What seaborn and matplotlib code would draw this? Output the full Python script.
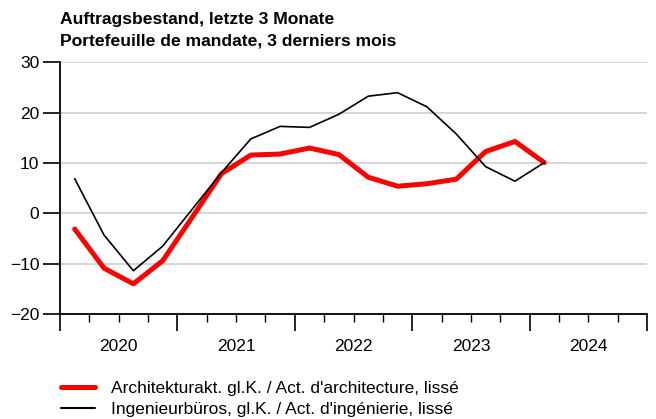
import pandas as pd
import numpy as np
import matplotlib
matplotlib.use('Agg')
import matplotlib.pyplot as plt
import seaborn as sns
from matplotlib.ticker import FixedLocator, FixedFormatter

# Data: quarterly, 2020Q1 - 2024Q1
quarters = ['2020Q1', '2020Q2', '2020Q3', '2020Q4',
            '2021Q1', '2021Q2', '2021Q3', '2021Q4',
            '2022Q1', '2022Q2', '2022Q3', '2022Q4',
            '2023Q1', '2023Q2', '2023Q3', '2023Q4',
            '2024Q1']
architektur = [-3.1, -10.9, -14.0, -9.4, -0.8, 7.9, 11.6, 11.8, 13.0, 11.7,
               7.2, 5.4, 5.9, 6.8, 12.3, 14.3, 10.1]
ingenieur = [6.9, -4.3, -11.4, -6.5, 0.8, 8.1, 14.8, 17.3, 17.1, 19.7,
             23.3, 24.0, 21.2, 15.8, 9.3, 6.4, 10.1]
years = [2020, 2021, 2022, 2023, 2024]
labelArch = "Architekturakt. gl.K. / Act. d'architecture, lissé"
labelIng = "Ingenieurbüros, gl.K. / Act. d'ingénierie, lissé"
titleText = "Auftragsbestand, letzte 3 Monate\nPortefeuille de mandate, 3 derniers mois"

# Set style
sns.set_theme(style='white')
plt.rcParams['font.family'] = ['Liberation Sans', 'DejaVu Sans']
plt.rcParams['text.color'] = 'black'
plt.rcParams['xtick.color'] = 'black'
plt.rcParams['ytick.color'] = 'black'

# Quarter -> decimal year (middle of quarter)
periods = pd.PeriodIndex(quarters, freq='Q')
xPos = periods.year + (periods.quarter - 1) / 4 + 0.125

dataFrame = pd.DataFrame({
    'x': np.concatenate([xPos, xPos]),
    'value': architektur + ingenieur,
    'series': [labelArch] * len(quarters) + [labelIng] * len(quarters),
})

fig = plt.figure(figsize=(6.56, 4.19), dpi=100)
ax = fig.add_axes([60 / 656, 1 - 314 / 419, 587 / 656, 251.5 / 419])

sns.lineplot(data=dataFrame, x='x', y='value', hue='series', size='series',
             palette={labelArch: '#ff0000', labelIng: '#000000'},
             sizes={labelArch: 3.6, labelIng: 1.2},
             ax=ax, legend=False)

ax.set_xlim(years[0], years[-1] + 1)
ax.set_ylim(-20, 30)
ax.set_xlabel('')
ax.set_ylabel('')

# Y axis
ax.set_yticks([-20, -10, 0, 10, 20, 30])
ax.yaxis.grid(True, color='#d2d2d2', linewidth=1.3)
ax.set_axisbelow(True)
ax.tick_params(axis='y', length=12, width=1.2, color='black', pad=3,
               labelsize=12.5, labelcolor='black', left=True, direction='out')

# X axis: year boundaries (long ticks), quarters (short ticks), labels mid-year
majorPos = list(range(years[0], years[-1] + 2))
ax.xaxis.set_major_locator(FixedLocator(majorPos))
ax.xaxis.set_major_formatter(FixedFormatter([''] * len(majorPos)))
minorPos = [y + q / 4 for y in years for q in (1, 2, 3)]
minorLabels = [str(y) if q == 2 else '' for y in years for q in (1, 2, 3)]
ax.xaxis.set_minor_locator(FixedLocator(minorPos))
ax.xaxis.set_minor_formatter(FixedFormatter(minorLabels))
ax.tick_params(axis='x', which='major', length=12, width=1.2, color='black',
               bottom=True, direction='out')
ax.tick_params(axis='x', which='minor', length=6, width=1.0, color='black',
               bottom=True, direction='out', labelsize=12.5,
               labelcolor='black', pad=12)

for side in ['top', 'right']:
    ax.spines[side].set_visible(False)
for side in ['left', 'bottom']:
    ax.spines[side].set_color('black')
    ax.spines[side].set_linewidth(1.3)

# Title
fig.text(60 / 656, 1 - 12 / 419, titleText, ha='left', va='top',
         fontsize=12.6, fontweight='bold', linespacing=1.5, color='black')

# Legend
handles = [plt.Line2D([], [], color='#ff0000', linewidth=3.6),
           plt.Line2D([], [], color='#000000', linewidth=1.5)]
fig.legend(handles, [labelArch, labelIng], loc='upper left',
           bbox_to_anchor=(58 / 656, 1 - 377 / 419), frameon=False,
           fontsize=12.5, handlelength=1.95, handletextpad=0.9,
           labelspacing=0.38, borderaxespad=0, borderpad=0.2,
           labelcolor='black')

plt.savefig('out.png', dpi=100)
